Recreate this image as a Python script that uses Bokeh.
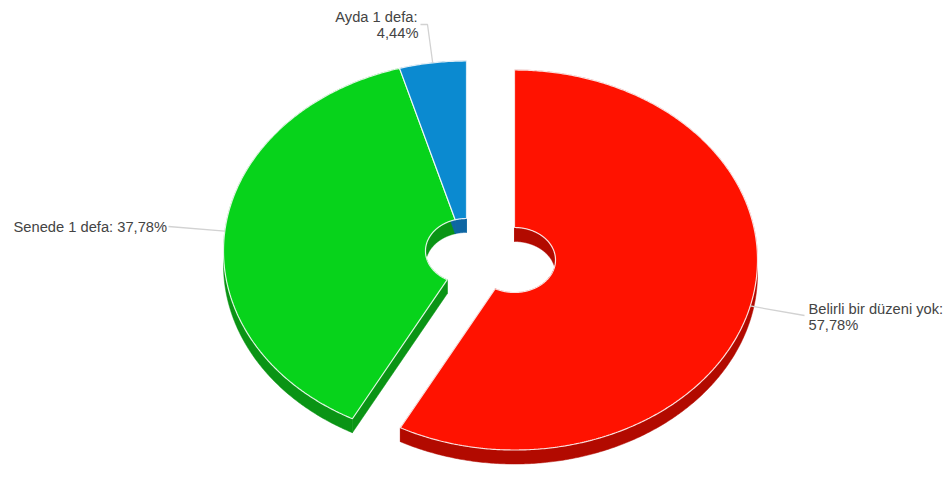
import numpy as np
from bokeh.plotting import figure
from bokeh.models import Range1d
from bokeh.core.properties import value
from bokeh.embed import file_html
from bokeh.resources import INLINE

categories = ["Belirli bir düzeni yok", "Senede 1 defa", "Ayda 1 defa"]
shares = [57.78, 37.78, 4.44]
label_lines = [["Belirli bir düzeni yok:", "57,78%"], ["Senede 1 defa: 37,78%"], ["Ayda 1 defa:", "4,44%"]]
top_colors = ["#ff1200", "#07d31b", "#0b8ad0"]
side_colors = ["#b20a00", "#0a9415", "#0e66a3"]

# layout (pixels of the 946x483 window)
centers = [(514, 259.5), (466, 250.5), (466, 250.5)]
RX, RY, HX, HY, DEPTH = 243, 190, 41, 32.5, 14
label_xy = [[(808, 308), (808, 324)], [(13, 226.5)], [(417, 16), (418, 32)]]
label_align = ["left", "left", "right"]
leader_elbow = [[(804, 315)], [(168, 226)], [(427, 24), (420, 24)]]

W, H = 946, 483
p = figure(width=W, height=H, output_backend="svg", toolbar_location=None,
           x_range=Range1d(0, W), y_range=Range1d(H, 0),
           min_border=0, outline_line_color=None, background_fill_color="white")
p.axis.visible = False
p.grid.visible = False


def arc(c, rx, ry, a0, a1, dy=0):
    t = np.radians(np.linspace(a0, a1, max(int(abs(a1 - a0) * 2), 4)))
    return c[0] + rx * np.sin(t), c[1] - ry * np.cos(t) + dy


edges = np.concatenate([[0], np.cumsum(shares)]) * 3.6
edges[-1] = 360

# extruded faces first
for i, c in enumerate(centers):
    a0, a1 = edges[i], edges[i + 1]
    for rx, ry in ((RX, RY), (HX, HY)):
        x, y = arc(c, rx, ry, a0, a1)
        xs, ys = arc(c, rx, ry, a0, a1, DEPTH)
        p.patch(np.r_[x, xs[::-1]], np.r_[y, ys[::-1]], fill_color=side_colors[i], line_color=side_colors[i], line_width=0.5)
    for a in (a0, a1):
        xo, yo = arc(c, RX, RY, a, a + 0.01)
        xi, yi = arc(c, HX, HY, a, a + 0.01)
        p.patch([xo[0], xi[0], xi[0], xo[0]], [yo[0], yi[0], yi[0] + DEPTH, yo[0] + DEPTH],
                fill_color=side_colors[i], line_color=side_colors[i], line_width=0.5)

# top surfaces
for i, c in enumerate(centers):
    a0, a1 = edges[i], edges[i + 1]
    xo, yo = arc(c, RX, RY, a0, a1)
    xi, yi = arc(c, HX, HY, a0, a1)
    p.patch(np.r_[xo, xi[::-1]], np.r_[yo, yi[::-1]], fill_color=top_colors[i], line_color="#ffffff",
            line_alpha=0.85, line_width=1.2)

# leader lines and labels
for i, c in enumerate(centers):
    mid = (edges[i] + edges[i + 1]) / 2
    x0, y0 = arc(c, RX, RY, mid, mid + 0.01)
    pts = [(x0[0], y0[0])] + leader_elbow[i]
    p.line([q[0] for q in pts], [q[1] for q in pts], line_color="#d2d2d2", line_width=1.3)
    for line, (x, y) in zip(label_lines[i], label_xy[i]):
        p.text([x], [y], text=[line], text_font=value("Liberation Sans"), text_font_size="14.7px",
               text_color="#444444", text_align=label_align[i], text_baseline="middle")

open("out.html", "w").write(file_html(p, INLINE))
